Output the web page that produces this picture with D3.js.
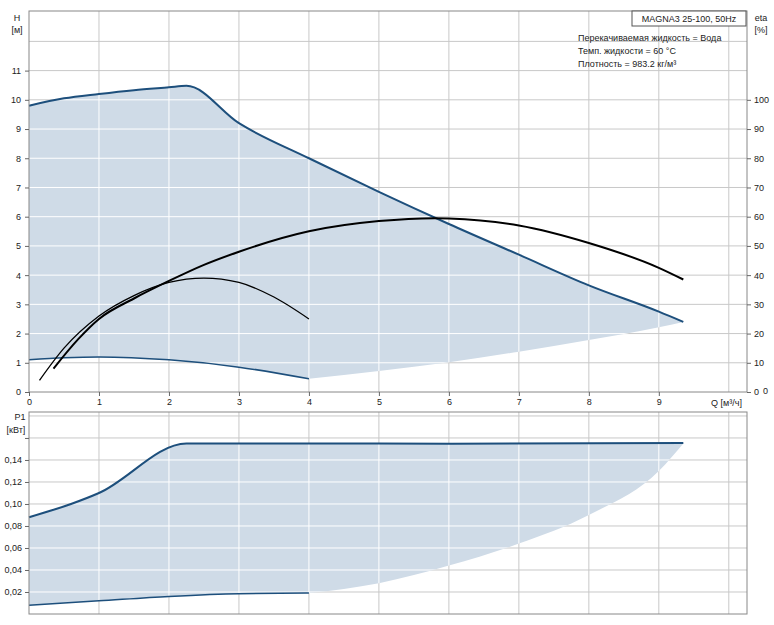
<!DOCTYPE html><html><head><meta charset="utf-8"><script src="https://cdn.jsdelivr.net/npm/d3@7"></script>
<style>body{margin:0;background:#fff}text{font-family:"Liberation Sans",Arial,sans-serif;font-size:9px;fill:#222}</style></head><body><svg id="c" width="774" height="625"></svg><script>
const hMax=[[0,9.8],[0.5,10.05],[1,10.2],[1.5,10.33],[2,10.43],[2.25,10.48],[3,9.2],[4,8.0],[5,6.85],[6,5.75],[7,4.7],[8,3.65],[9,2.75],[9.35,2.4]];
const hMin=[[0,1.1],[0.5,1.17],[1,1.2],[2,1.1],[3,0.85],[4,0.45]];
const hLow=[[4,0.45],[5,0.72],[6,1.02],[7,1.38],[8,1.78],[9,2.22],[9.35,2.4]];
const etaBig=[[0.35,8],[0.7,18],[1,25],[1.5,32],[2,38],[2.5,43.5],[3,48],[4,55],[5,58.5],[5.8,59.5],[6,59.4],[7,57],[8,51],[9,42.5],[9.35,38.5]];
const etaSmall=[[0.15,4],[0.5,15],[1,26],[1.5,33],[2,37.5],[2.5,39],[3,37.5],[3.5,32.5],[4,25]];
const pMax=[[0,0.088],[0.6,0.1],[1,0.11],[2.25,0.155],[4,0.155],[6,0.1548],[9.35,0.1555]];
const pMin=[[0,0.008],[1,0.012],[2,0.016],[3,0.0185],[4,0.019]];
const pLow=[[4,0.019],[5,0.028],[6,0.044],[7,0.064],[8,0.09],[9,0.13],[9.35,0.155]];
const xTicks=[0,1,2,3,4,5,6,7,8,9];
const hTicks=[0,1,2,3,4,5,6,7,8,9,10,11];
const etaTicks=[0,10,20,30,40,50,60,70,80,90,100];
const pTicks=[0.02,0.04,0.06,0.08,0.10,0.12,0.14];
const legend=["Перекачиваемая жидкость = Вода","Темп. жидкости = 60 °C","Плотность = 983.2 кг/м³"];
const svg=d3.select("#c");
const x=d3.scaleLinear().domain([0,10.26]).range([29,747]);
const yH=d3.scaleLinear().domain([0,13.04]).range([392,11]);
const yE=d3.scaleLinear().domain([0,130.4]).range([392,11]);
const yP=d3.scaleLinear().domain([0,0.1836]).range([614,412]);
const fill="#cfdbe7",blue="#1d4f7c";
function panel(y,gridY,id,top,bottom,fillPts,lines){
  const g=svg.append("g");
  g.selectAll(".v").data(d3.range(1,11)).join("line").attr("x1",d=>x(d)).attr("x2",d=>x(d)).attr("y1",top).attr("y2",bottom).attr("stroke","#c8c8c8");
  g.selectAll(".h").data(gridY).join("line").attr("x1",29).attr("x2",747).attr("y1",d=>y(d)).attr("y2",d=>y(d)).attr("stroke","#c8c8c8");
  const area=d3.line().x(d=>x(d[0])).y(d=>y(d[1])).curve(d3.curveMonotoneX);
  const fp=fillPts.map(p=>area(p)).join(" ");
  const dpath="M"+fillPts[0].concat(fillPts[1].slice().reverse(),fillPts[2].slice().reverse()).map(d=>x(d[0])+","+y(d[1])).join("L")+"Z";
  const a1=fillPts[0],a2=fillPts[2].slice().reverse(),a3=fillPts[1].slice().reverse();
  const ln=d3.line().x(d=>x(d[0])).y(d=>y(d[1])).curve(d3.curveMonotoneX);
  const dd=ln(a1)+"L"+ln(a2).slice(1)+"L"+ln(a3).slice(1)+"Z";
  g.append("clipPath").attr("id",id).append("path").attr("d",dd);
  g.append("path").attr("d",dd).attr("fill",fill);
  const gc=g.append("g").attr("clip-path",`url(#${id})`);
  gc.selectAll(".v").data(d3.range(1,11)).join("line").attr("x1",d=>x(d)).attr("x2",d=>x(d)).attr("y1",top).attr("y2",bottom).attr("stroke","#fff");
  gc.selectAll(".h").data(gridY).join("line").attr("x1",29).attr("x2",747).attr("y1",d=>y(d)).attr("y2",d=>y(d)).attr("stroke","#fff");
  lines.forEach(l=>g.append("path").attr("d",ln(l.d)).attr("fill","none").attr("stroke",l.c).attr("stroke-width",l.w));
  g.append("rect").attr("x",29).attr("y",top).attr("width",718).attr("height",bottom-top).attr("fill","none").attr("stroke","#888");
}
panel(yH,[1,2,3,4,5,6,7,8,9,10,11,12],"c1",11,392,[hMax,hMin,hLow],[
 {d:hMax,c:blue,w:2},{d:hMin,c:blue,w:1.5},
 {d:etaBig.map(d=>[d[0],d[1]/10]),c:"#000",w:2},{d:etaSmall.map(d=>[d[0],d[1]/10]),c:"#000",w:1.3}]);
panel(yP,[0.02,0.04,0.06,0.08,0.10,0.12,0.14,0.16,0.18],"c2",412,614,[pMax,pMin,pLow],[{d:pMax,c:blue,w:2},{d:pMin,c:blue,w:1.5}]);
// axes
svg.append("g").attr("transform","translate(29,0)").call(d3.axisLeft(yH).tickValues(hTicks).tickSize(4).tickFormat(d3.format("d"))).call(g=>{g.select(".domain").remove();g.selectAll("text").attr("dx",-1)});
svg.append("g").attr("transform","translate(747,0)").call(d3.axisRight(yE).tickValues(etaTicks).tickSize(4)).call(g=>g.select(".domain").remove());
svg.append("g").attr("transform","translate(0,392)").call(d3.axisBottom(x).tickValues(xTicks).tickSize(4)).call(g=>g.select(".domain").remove());
svg.append("g").attr("transform","translate(29,0)").call(d3.axisLeft(yP).tickValues(pTicks.concat([0.16])).tickSize(4).tickFormat(d=>d>0.15?"":d3.format(".2f")(d).replace(".",","))).call(g=>g.select(".domain").remove());
svg.selectAll(".tick text").style("font-size","9px").style("fill","#222");
svg.selectAll(".tick line").attr("stroke","#666");
svg.append("text").attr("x",17).attr("y",21).attr("text-anchor","middle").text("H");
svg.append("text").attr("x",17).attr("y",33).attr("text-anchor","middle").text("[м]");
svg.append("text").attr("x",761).attr("y",21).attr("text-anchor","middle").text("eta");
svg.append("text").attr("x",761).attr("y",33).attr("text-anchor","middle").text("[%]");
svg.append("text").attr("x",742).attr("y",406).attr("text-anchor","end").text("Q [м³/ч]");
svg.append("text").attr("x",763).attr("y",394).text("0");
svg.append("text").attr("x",20).attr("y",420).attr("text-anchor","middle").text("P1");
svg.append("text").attr("x",16).attr("y",433).attr("text-anchor","middle").text("[кВт]");
svg.append("rect").attr("x",632).attr("y",11).attr("width",114).attr("height",15).attr("fill","#fff").attr("stroke","#555");
svg.append("text").attr("x",689).attr("y",22).attr("text-anchor","middle").text("MAGNA3 25-100, 50Hz");
legend.forEach((t,i)=>svg.append("text").attr("x",578).attr("y",41+i*13).text(t));
</script></body></html>
